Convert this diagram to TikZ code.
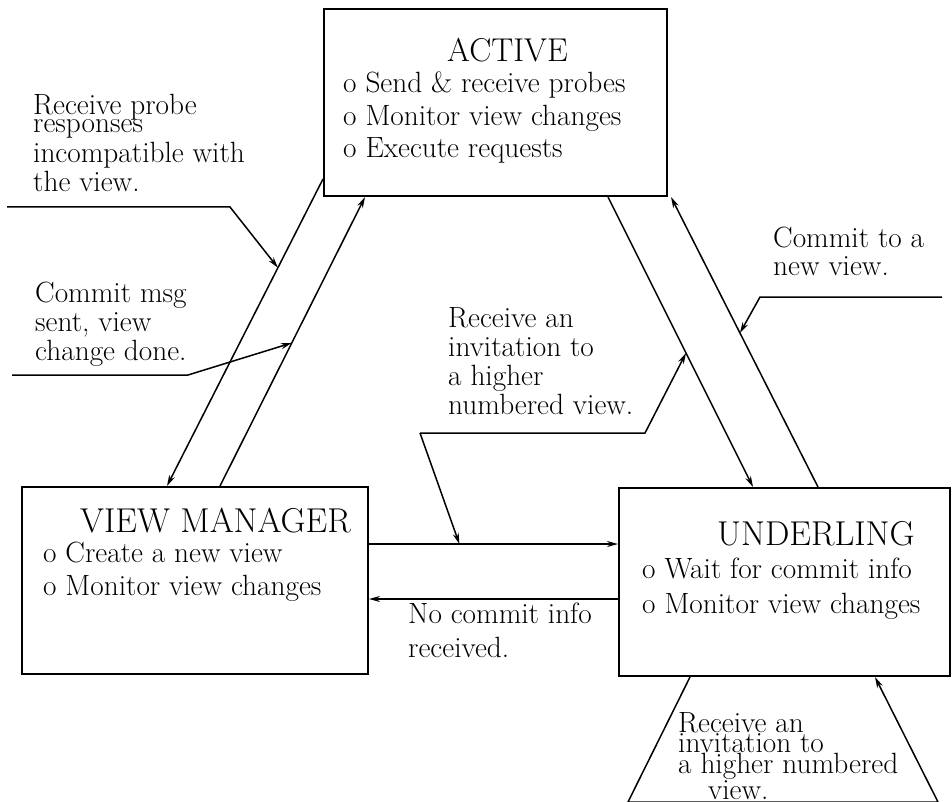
\documentclass[tikz,border=0pt]{standalone}
\usetikzlibrary{arrows.meta}
\begin{document}
\begin{tikzpicture}[x=1pt,y=-1pt,
   statebox/.style={draw,line width=2pt,inner sep=0pt,anchor=north west},
   conn/.style={line width=1.5pt,-{Stealth[length=11pt,width=6pt]}},
   lbl/.style={font=\fontsize{29.3}{#1}\selectfont,align=left,anchor=north west,inner sep=0pt},
   lbl/.default=29.5,
   ttl/.style={font=\fontsize{34.5}{38}\selectfont,anchor=base west,inner sep=0pt}]
   \useasboundingbox (0,0) rectangle (952,802);
   % states
   \node[statebox,minimum width=343pt,minimum height=187pt] (active) at (323,8) {};
   \node[statebox,minimum width=346pt,minimum height=187pt] (vm) at (21,486) {};
   \node[statebox,minimum width=331pt,minimum height=188pt] (und) at (618,487) {};
   \node[ttl,font=\fontsize{33}{36}\selectfont] (activettl) at (447,62) {ACTIVE};
   \node[lbl=32.5] (activelist) at (343,71.7) {o Send \& receive probes\\ o Monitor view changes\\ o Execute requests};
   \node[ttl] (vmttl) at (80,532) {VIEW MANAGER};
   \node[lbl=33] (vmlist) at (43,541.7) {o Create a new view\\ o Monitor view changes};
   \node[ttl] (undttl) at (717,545) {UNDERLING};
   \node[lbl=35] (undlist) at (642,557.7) {o Wait for commit info\\ o Monitor view changes};
   % transitions
   \draw[conn] ([yshift=18pt]active.south west) -- coordinate[pos=0.289] (t1) ([xshift=146pt]vm.north west);
   \draw[conn] ([xshift=199pt]vm.north west) -- coordinate[pos=0.495] (t2) ([xshift=42pt]active.south west);
   \draw[conn] ([xshift=285pt]active.south west) -- coordinate[pos=0.538] (t3) ([xshift=135pt]und.north west);
   \draw[conn] ([xshift=200pt]und.north west) -- coordinate[pos=0.531] (t4) ([xshift=3pt]active.south east);
   \draw[conn] ([yshift=-58pt]vm.north east) -- coordinate[pos=0.363] (t5) ([yshift=-57pt]und.north west);
   \draw[conn] ([yshift=-112pt]und.north west) -- ([yshift=-113pt]vm.north east);
   \draw[conn] ([xshift=72pt]und.south west) -- ++(-62,125) -- ++(310,0) -- ([xshift=257pt]und.south west);
   % labels
   \node[lbl] (probe) at (33,93.7) {Receive probe\\[-11pt] responses\\ incompatible with\\ the view.};
   \node[lbl=29] (sent) at (35,281.7) {Commit msg\\ sent, view\\ change done.};
   \node[lbl=29] (invite) at (448,307.7) {Receive an\\ invitation to\\ a higher\\ numbered view.};
   \node[lbl=28] (commit) at (773,226.7) {Commit to a\\ new view.};
   \node[lbl=34] (nocommit) at (408,602.7) {No commit info\\ received.};
   \node[lbl=19.5] (reinvite) at (678,712.7) {Receive an\\ invitation to\\ a higher numbered\\ \hspace*{30pt}view.};
   % leaders
   \coordinate (p1) at (7,207);
   \coordinate (p2) at (12,375);
   \coordinate (p3) at (420,433);
   \coordinate (p4) at (942,297);
   \draw[conn] (p1) -- (230,207) -- (t1);
   \draw[conn] (p2) -- (188,375) -- (t2);
   \draw[conn] (p3) -- (645,433) -- (t3);
   \draw[conn] (p3) -- (t5);
   \draw[conn] (p4) -- (760,297) -- (t4);
\end{tikzpicture}
\end{document}
